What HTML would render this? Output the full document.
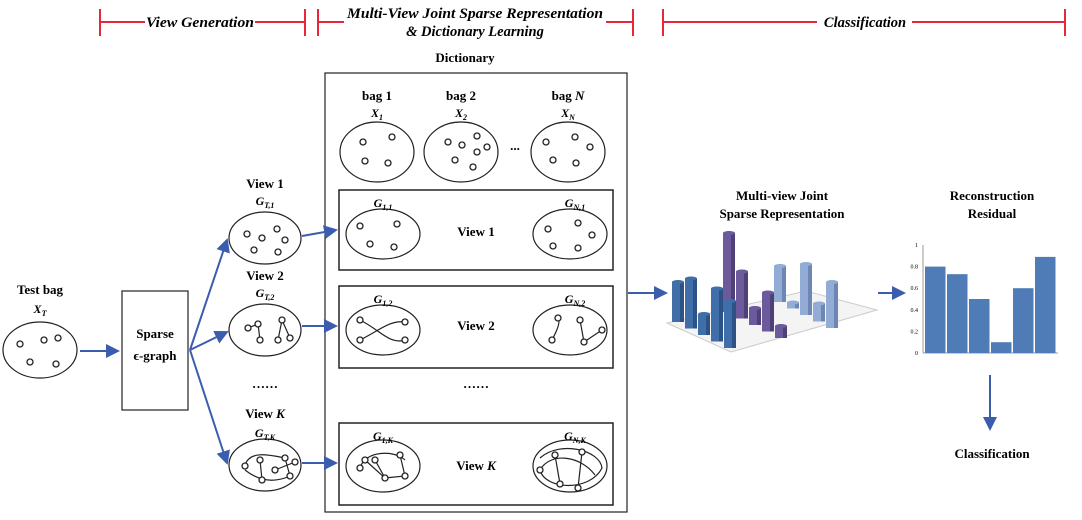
<!DOCTYPE html>
<html><head><meta charset="utf-8"><style>
body{margin:0;background:#fff}
svg{display:block;font-family:"Liberation Serif",serif}
.b{font-weight:bold;font-size:13px}
.i{font-style:italic;font-weight:bold;font-size:12px}
.h{font-style:italic;font-weight:bold;font-size:14.5px}
</style></head><body>
<svg width="1082" height="520" viewBox="0 0 1082 520">
<defs><marker id="ah" markerWidth="7" markerHeight="7" refX="6" refY="3.5" orient="auto"><path d="M0,0 L7,3.5 L0,7 z" fill="#3a5dae"/></marker></defs>
<g stroke="#e8283a" stroke-width="2">
<line x1="100" y1="9" x2="100" y2="36"/><line x1="305" y1="9" x2="305" y2="36"/><line x1="100" y1="22" x2="145" y2="22"/><line x1="255" y1="22" x2="305" y2="22"/>
<line x1="318" y1="9" x2="318" y2="36"/><line x1="633" y1="9" x2="633" y2="36"/><line x1="318" y1="22" x2="344" y2="22"/><line x1="606" y1="22" x2="633" y2="22"/>
<line x1="663" y1="9" x2="663" y2="36"/><line x1="1065" y1="9" x2="1065" y2="36"/><line x1="663" y1="22" x2="817" y2="22"/><line x1="912" y1="22" x2="1065" y2="22"/>
</g>
<g class="h" text-anchor="middle">
<text x="200" y="27" textLength="108" lengthAdjust="spacingAndGlyphs">View Generation</text>
<text x="475" y="18" textLength="256" lengthAdjust="spacingAndGlyphs">Multi-View Joint Sparse Representation</text>
<text x="475" y="36">&amp; Dictionary Learning</text>
<text x="865" y="27">Classification</text>
</g>
<g fill="none" stroke="#222" stroke-width="1.2">
<rect x="325" y="73" width="302" height="439"/>
<rect x="339" y="190" width="274" height="80" stroke-width="1.5"/>
<rect x="339" y="286" width="274" height="82" stroke-width="1.5"/>
<rect x="339" y="423" width="274" height="82" stroke-width="1.5"/>
<rect x="122" y="291" width="66" height="119"/>
<ellipse cx="377" cy="152" rx="37" ry="30"/><ellipse cx="461" cy="152" rx="37" ry="30"/><ellipse cx="568" cy="152" rx="37" ry="30"/>
<ellipse cx="40" cy="350" rx="37" ry="28"/>
<ellipse cx="265" cy="238" rx="36" ry="26"/><ellipse cx="265" cy="330" rx="36" ry="26"/><ellipse cx="265" cy="465" rx="36" ry="26"/>
<ellipse cx="383" cy="234" rx="37" ry="25"/><ellipse cx="570" cy="234" rx="37" ry="25"/>
<ellipse cx="383" cy="330" rx="37" ry="25"/><ellipse cx="570" cy="330" rx="37" ry="25"/>
<ellipse cx="383" cy="466" rx="37" ry="26"/><ellipse cx="570" cy="466" rx="37" ry="26"/>
<path d="M248 328 L258 324 L260 340 M282 320 L278 340 M282 320 L290 338"/>
<path d="M360 320 C380 330,390 345,405 340 M360 340 C380 330,390 320,405 322"/>
<path d="M552 340 C560 325,560 320,558 318 M580 320 L584 342 L602 330"/>
<path d="M245 465 C250 450,270 455,285 458 M260 460 L262 480 M285 458 L290 476 C270 485,255 478,245 470 M275 470 L295 462"/>
<path d="M360 468 C365 450,395 450,405 460 M365 460 L385 478 L405 476 L400 455 M385 478 L375 460"/>
<path d="M540 458 C560 440,600 450,602 468 C590 492,545 490,540 470 C550 452,580 455,595 475 M555 455 L560 484 M582 452 L578 488"/>
</g>
<g fill="#fff" stroke="#222" stroke-width="1.3">
<circle cx="363" cy="142" r="3"/><circle cx="392" cy="137" r="3"/><circle cx="365" cy="161" r="3"/><circle cx="388" cy="163" r="3"/>
<circle cx="448" cy="142" r="3"/><circle cx="462" cy="145" r="3"/><circle cx="477" cy="136" r="3"/><circle cx="487" cy="147" r="3"/><circle cx="477" cy="152" r="3"/><circle cx="455" cy="160" r="3"/><circle cx="473" cy="167" r="3"/>
<circle cx="546" cy="142" r="3"/><circle cx="575" cy="137" r="3"/><circle cx="590" cy="147" r="3"/><circle cx="553" cy="160" r="3"/><circle cx="576" cy="163" r="3"/>
<circle cx="20" cy="344" r="3"/><circle cx="44" cy="340" r="3"/><circle cx="58" cy="338" r="3"/><circle cx="30" cy="362" r="3"/><circle cx="56" cy="364" r="3"/>
<circle cx="247" cy="234" r="3"/><circle cx="262" cy="238" r="3"/><circle cx="277" cy="229" r="3"/><circle cx="285" cy="240" r="3"/><circle cx="254" cy="250" r="3"/><circle cx="278" cy="252" r="3"/>
<circle cx="360" cy="226" r="3"/><circle cx="397" cy="224" r="3"/><circle cx="370" cy="244" r="3"/><circle cx="394" cy="247" r="3"/>
<circle cx="548" cy="229" r="3"/><circle cx="578" cy="223" r="3"/><circle cx="592" cy="235" r="3"/><circle cx="553" cy="246" r="3"/><circle cx="578" cy="248" r="3"/>
<circle cx="248" cy="328" r="3"/><circle cx="258" cy="324" r="3"/><circle cx="260" cy="340" r="3"/><circle cx="282" cy="320" r="3"/><circle cx="278" cy="340" r="3"/><circle cx="290" cy="338" r="3"/>
<circle cx="360" cy="320" r="3"/><circle cx="360" cy="340" r="3"/><circle cx="405" cy="322" r="3"/><circle cx="405" cy="340" r="3"/>
<circle cx="558" cy="318" r="3"/><circle cx="552" cy="340" r="3"/><circle cx="580" cy="320" r="3"/><circle cx="584" cy="342" r="3"/><circle cx="602" cy="330" r="3"/>
<circle cx="245" cy="466" r="3"/><circle cx="260" cy="460" r="3"/><circle cx="262" cy="480" r="3"/><circle cx="285" cy="458" r="3"/><circle cx="290" cy="476" r="3"/><circle cx="275" cy="470" r="3"/><circle cx="295" cy="462" r="3"/>
<circle cx="360" cy="468" r="3"/><circle cx="365" cy="460" r="3"/><circle cx="385" cy="478" r="3"/><circle cx="405" cy="476" r="3"/><circle cx="400" cy="455" r="3"/><circle cx="375" cy="460" r="3"/>
<circle cx="555" cy="455" r="3"/><circle cx="560" cy="484" r="3"/><circle cx="582" cy="452" r="3"/><circle cx="578" cy="488" r="3"/><circle cx="540" cy="470" r="3"/>
</g>
<g text-anchor="middle">
<text class="b" x="465" y="62">Dictionary</text>
<text class="b" x="377" y="100">bag 1</text><text class="i" x="377" y="117">X<tspan font-size="8" dy="3">1</tspan></text>
<text class="b" x="461" y="100">bag 2</text><text class="i" x="461" y="117">X<tspan font-size="8" dy="3">2</tspan></text>
<text class="b" x="568" y="100">bag <tspan font-style="italic">N</tspan></text><text class="i" x="568" y="117">X<tspan font-size="8" dy="3">N</tspan></text>
<text class="b" x="515" y="150">...</text>
<text class="b" x="40" y="294">Test bag</text><text class="i" x="40" y="313">X<tspan font-size="8" dy="3">T</tspan></text>
<text class="b" x="155" y="338">Sparse</text><text class="b" x="155" y="360">ϵ-graph</text>
<text class="b" x="265" y="188">View 1</text><text class="i" x="265" y="205">G<tspan font-size="8" dy="3">T,1</tspan></text>
<text class="b" x="265" y="280">View 2</text><text class="i" x="265" y="297">G<tspan font-size="8" dy="3">T,2</tspan></text>
<text class="b" x="265" y="388">……</text>
<text class="b" x="265" y="418">View <tspan font-style="italic">K</tspan></text><text class="i" x="265" y="437">G<tspan font-size="8" dy="3">T,K</tspan></text>
<text class="i" x="383" y="207">G<tspan font-size="8" dy="3">1,1</tspan></text><text class="i" x="575" y="207">G<tspan font-size="8" dy="3">N,1</tspan></text>
<text class="i" x="383" y="303">G<tspan font-size="8" dy="3">1,2</tspan></text><text class="i" x="575" y="303">G<tspan font-size="8" dy="3">N,2</tspan></text>
<text class="i" x="383" y="440">G<tspan font-size="8" dy="3">1,K</tspan></text><text class="i" x="575" y="440">G<tspan font-size="8" dy="3">N,K</tspan></text>
<text class="b" x="476" y="236">View 1</text><text class="b" x="476" y="330">View 2</text><text class="b" x="476" y="470">View <tspan font-style="italic">K</tspan></text>
<text class="b" x="476" y="388">……</text>
<text class="b" x="782" y="200">Multi-view Joint</text><text class="b" x="782" y="218">Sparse Representation</text>
<text class="b" x="992" y="200">Reconstruction</text><text class="b" x="992" y="218">Residual</text>
<text class="b" x="992" y="458">Classification</text>
</g>
<g stroke="#3a5dae" stroke-width="2" marker-end="url(#ah)">
<line x1="80" y1="351" x2="118" y2="351"/>
<line x1="190" y1="350" x2="227" y2="240"/><line x1="190" y1="350" x2="227" y2="332"/><line x1="190" y1="350" x2="227" y2="463"/>
<line x1="302" y1="236" x2="336" y2="230"/><line x1="302" y1="326" x2="336" y2="326"/><line x1="302" y1="463" x2="336" y2="463"/>
<line x1="628" y1="293" x2="666" y2="293"/><line x1="878" y1="293" x2="904" y2="293"/><line x1="990" y1="375" x2="990" y2="429"/>
</g>
<polygon points="667,323 806,291 877,310 731,352" fill="#f4f4f4" stroke="#ccc"/>
<g id="bars3d"></g>
<g id="resid"></g>
</svg>
<script>
const series3d = ["view1","view2","viewK"];
const blueVals = [40,50,21,53,47];
const purpleVals = [79,47,17,39,12];
const lightVals = [36,6,51,18,46];
const residCats = [1,2,3,4,5,6];
const residVals = [0.8,0.73,0.5,0.1,0.6,0.89];
const residTicks = [0,0.2,0.4,0.6,0.8,1];
const NS="http://www.w3.org/2000/svg";
function mk(t,a,p){const e=document.createElementNS(NS,t);for(const k in a)e.setAttribute(k,a[k]);p.appendChild(e);return e;}
const g3=document.getElementById('bars3d');
const all=[[blueVals,'#3f6ea8','#2d5285'],[purpleVals,'#6c5a9c','#4f4178'],[lightVals,'#93acd6','#6d86b3']];
const items=[];
all.forEach((s,si)=>s[0].forEach((v,i)=>items.push({si,i,v,c:s[1],d:s[2]})));
items.sort((a,b)=>(322+a.i*6.5-a.si*10)-(322+b.i*6.5-b.si*10));
items.forEach(o=>{
 const x=672+o.i*13+o.si*51, yb=322+o.i*6.5-o.si*10, h=o.v;
 const r=mk('rect',{x:x,y:yb-h,width:8,height:h,fill:o.c},g3);
 
 
 mk('rect',{x:x+8,y:yb-h,width:4,height:h,fill:o.d},g3);
 mk('ellipse',{cx:x+6,cy:yb-h,rx:6,ry:2,fill:o.c},g3);
});
const gr=document.getElementById('resid');
const y0=353,y1=245,x0=923,bw=20.5,gap=1.5;
const ys=v=>y0-(y0-y1)*v;
mk('line',{x1:x0,y1:y1,x2:x0,y2:y0,stroke:'#999'},gr);
mk('line',{x1:x0,y1:y0,x2:1058,y2:y0,stroke:'#999'},gr);
residTicks.forEach(t=>{const tx=mk('text',{x:x0-5,y:ys(t)+2,'font-size':6,'text-anchor':'end'},gr);tx.textContent=t;});
residVals.forEach((v,i)=>{
 const b=mk('rect',{x:x0+2+i*(bw+gap),y:ys(v),width:bw,height:y0-ys(v),fill:'#4f7cb6'},gr);
 
 
});
</script>
</body></html>
